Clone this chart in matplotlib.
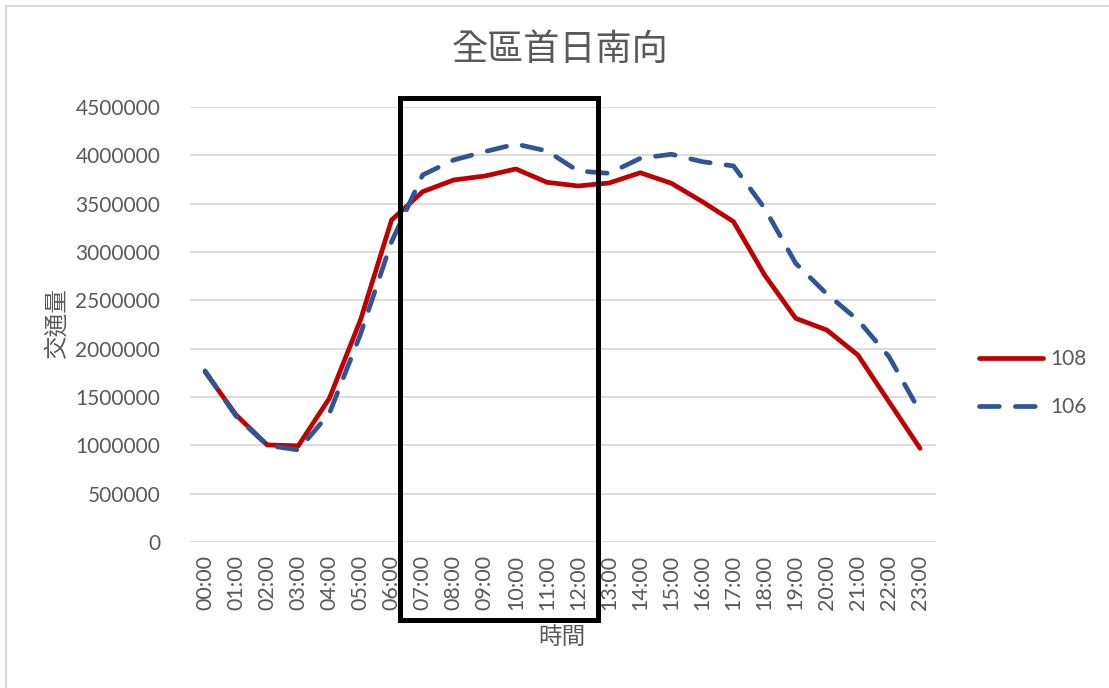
import numpy as np
import matplotlib
matplotlib.use("Agg")
import matplotlib.pyplot as plt
from matplotlib.patches import Rectangle
from matplotlib.lines import Line2D

plt.rcParams['font.family'] = ['Lato', 'Noto Sans CJK TC', 'DejaVu Sans']

# data
hours = ['%02d:00' % h for h in range(24)]
s108 = [1762000, 1314000, 1004000, 995000, 1487000, 2297000, 3331000, 3624000,
        3745000, 3786000, 3859000, 3721000, 3683000, 3714000, 3820000, 3711000,
        3520000, 3314000, 2762000, 2314000, 2193000, 1934000, 1451000, 969000]
s106 = [1770000, 1300000, 1000000, 952000, 1331000, 2150000, 3107000, 3797000,
        3952000, 4038000, 4117000, 4045000, 3838000, 3814000, 3969000, 4011000,
        3934000, 3890000, 3452000, 2883000, 2566000, 2297000, 1917000, 1348000]
yticks = np.arange(0, 4500001, 500000)

txt = '#595959'
W, H = 1109, 688
fig = plt.figure(figsize=(W / 100, H / 100), dpi=100)
ax = fig.add_axes([189.5 / W, (H - 542) / H, (935.6 - 189.5) / W, (542 - 107) / H])

x = np.arange(len(hours))
ax.plot(x, s108, color='#C00000', lw=3.4, solid_capstyle='round', solid_joinstyle='round', label='108', zorder=3)
ax.plot(x, s106, color='#2F5597', lw=3.4, ls=(0, (4.2, 3.4)), dash_capstyle='round', label='106', zorder=3)

ax.set_xlim(-0.5, len(hours) - 0.5)
ax.set_ylim(0, 4500000)
ax.set_yticks(yticks)
ax.set_yticklabels([str(v) for v in yticks], fontsize=15, color=txt)
ax.set_xticks(x)
ax.set_xticklabels(hours, rotation=90, fontsize=15.5, color=txt)
ax.tick_params(axis='both', length=0)
ax.tick_params(axis='y', pad=21)
ax.tick_params(axis='x', pad=9)
ax.grid(axis='y', color='#D9D9D9', lw=1.3)
ax.set_axisbelow(True)
for s in ax.spines.values():
    s.set_visible(False)

# highlight box around the morning hours
box = Rectangle((6.27, -807000), 12.64 - 6.27, 4593000 + 807000, fill=False,
                ec='black', lw=3.6, clip_on=False, zorder=5)
ax.add_patch(box)

fig.text(560 / W, 1 - 50 / H, '全區首日南向', ha='center', va='center', fontsize=26,
         color=txt, family=['Noto Sans CJK TC'], weight='light')
fig.text(57 / W, 1 - 323 / H, '交通量', ha='center', va='center', rotation=90,
         fontsize=17, color=txt, family=['Noto Sans CJK TC'], weight='light')
fig.text(562 / W, 1 - 637 / H, '時間', ha='center', va='center', fontsize=17,
         color=txt, family=['Noto Sans CJK TC'], weight='light')

leg = ax.legend(loc='center left', bbox_to_anchor=(960 / W, 1 - 383 / H),
                bbox_transform=fig.transFigure, frameon=False, fontsize=15,
                handlelength=3.1, labelspacing=1.35, handletextpad=0.35)
for t in leg.get_texts():
    t.set_color(txt)

# chart area border
fig.add_artist(Line2D([5.5 / W, 1], [1 - 5.5 / H, 1 - 5.5 / H], color='#D9D9D9', lw=1.5))
fig.add_artist(Line2D([5.5 / W, 5.5 / W], [0, 1 - 5.5 / H], color='#D9D9D9', lw=1.5))

fig.savefig('out.png', dpi=100)
